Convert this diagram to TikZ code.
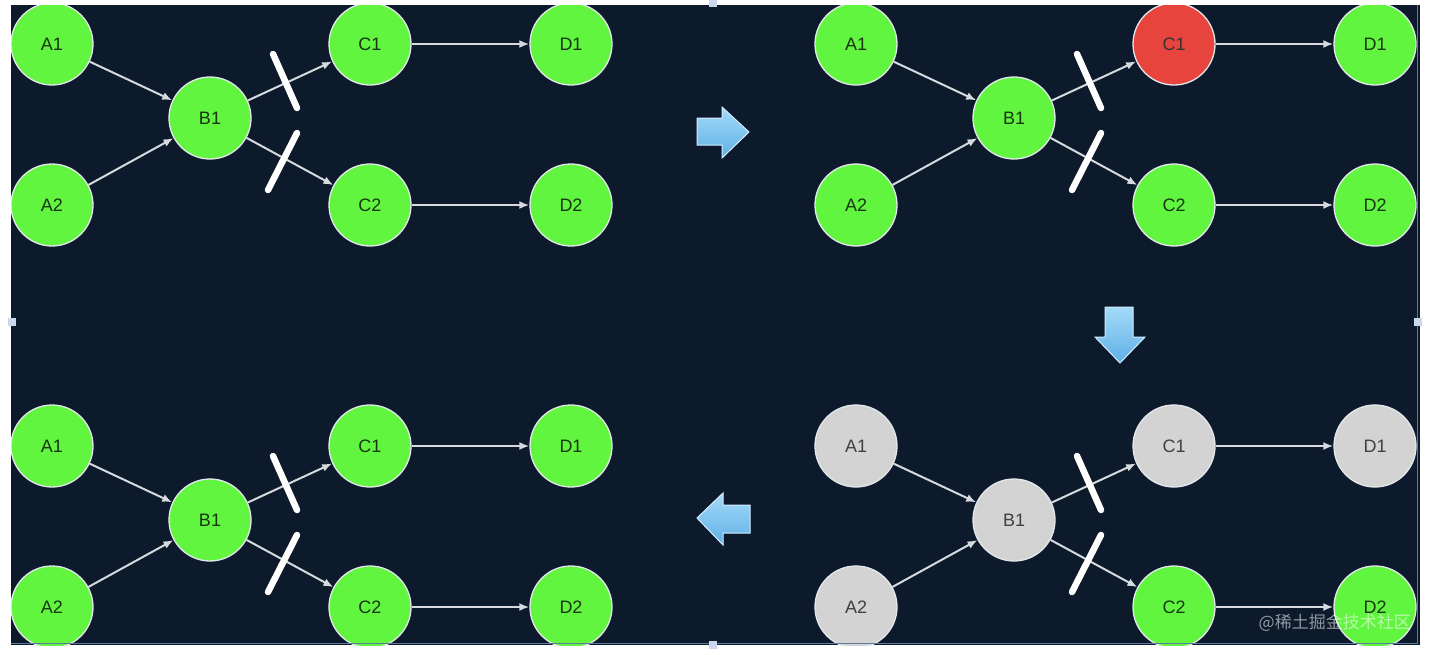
\documentclass[tikz,border=0pt]{standalone}
\usepackage{fontspec}
\setmainfont{Liberation Sans}
\newfontfamily\cjk{Noto Sans CJK SC}
\usetikzlibrary{arrows.meta}
\definecolor{bg}{HTML}{0C1A2B}
\definecolor{ngreen}{HTML}{62F53F}
\definecolor{ngray}{HTML}{D3D3D3}
\definecolor{nred}{HTML}{E8443E}
\definecolor{rim}{HTML}{E4E8EC}
\definecolor{edgecol}{HTML}{D6DADF}
\definecolor{arrtop}{HTML}{A4DAF8}
\definecolor{arrbot}{HTML}{5FB0E6}
\definecolor{arrrim}{HTML}{D4EEFF}
\definecolor{frame}{HTML}{5D7A9C}
\definecolor{handle}{HTML}{CAD8EE}
\definecolor{gtext}{HTML}{173512}
\tikzset{
  nd/.style={circle, minimum size=82pt, inner sep=0pt, draw=rim, line width=1.3pt,
             font=\fontsize{18}{18}\selectfont, text=gtext},
  gn/.style={nd, fill=ngreen},
  gy/.style={nd, fill=ngray, text=black!75},
  rd/.style={nd, fill=nred, text=black!80},
  edge/.style={draw=edgecol, line width=2pt, -{Latex[length=10pt,width=8pt]}},
  slash/.style={draw=white, line width=6.5pt, line cap=round},
  bigarrow/.style={top color=arrtop, bottom color=arrbot, draw=arrrim, line width=1pt, line join=miter},
  hnd/.style={fill=handle, draw=none, minimum size=8pt, inner sep=0pt, rectangle},
}
\newcommand\drawpanel[9]{%
  \begin{scope}[shift={(#2,#3)}]
    \node[#4] (#1A1) at (52,44) {A1};
    \node[#5] (#1A2) at (52,205) {A2};
    \node[#6] (#1B1) at (210,118) {B1};
    \node[#7] (#1C1) at (370,44) {C1};
    \node[#8] (#1C2) at (370,205) {C2};
    \node[#9] (#1D1) at (571,44) {D1};
    \node[gn] (#1D2) at (571,205) {D2};
    \draw[edge] (#1A1) -- (#1B1);
    \draw[edge] (#1A2) -- (#1B1);
    \draw[edge] (#1B1) -- (#1C1);
    \draw[edge] (#1B1) -- (#1C2);
    \draw[edge] (#1C1) -- (#1D1);
    \draw[edge] (#1C2) -- (#1D2);
    \draw[slash] (273,54) -- (297,108);
    \draw[slash] (297,133) -- (268,190);
  \end{scope}}
\begin{document}
\begin{tikzpicture}[x=1pt,y=-1pt]
  \useasboundingbox (0,0) rectangle (1430,654);
  \fill[white] (0,0) rectangle (1430,654);
  \fill[bg] (11,5) rectangle (1420,645);
  \begin{scope}
    \clip (11,5) rectangle (1420,645);
    \drawpanel{p}{0}{0}{gn}{gn}{gn}{gn}{gn}{gn}
    \drawpanel{q}{804}{0}{gn}{gn}{gn}{rd}{gn}{gn}
    \drawpanel{r}{804}{402}{gy}{gy}{gy}{gy}{gn}{gy}
    \drawpanel{s}{0}{402}{gn}{gn}{gn}{gn}{gn}{gn}
    % big transition arrows
    \shade[bigarrow] (697,118) -- (722,118) -- (722,107) -- (749,132) -- (722,158) -- (722,145) -- (697,145) -- cycle;
    \shade[bigarrow] (1105,307) -- (1133,307) -- (1133,337) -- (1145,337) -- (1120,363) -- (1095,337) -- (1105,337) -- cycle;
    \shade[bigarrow] (750,505) -- (723,505) -- (723,493) -- (697,518) -- (723,545) -- (723,533) -- (750,533) -- cycle;
  \end{scope}
  % frame lines
  \draw[frame, line width=1.6pt] (1417.5,5) -- (1417.5,643.5) -- (11,643.5);
  % selection handles
  \node[hnd] (h1) at (713,3) {};
  \node[hnd] (h2) at (713,645) {};
  \node[hnd] (h3) at (12,322) {};
  \node[hnd] (h4) at (1418,322) {};
  % watermark
  \node[font=\cjk\fontsize{17}{17}\selectfont, text=white, opacity=0.55, anchor=east, inner sep=0pt] (wm) at (1411,623) {@稀土掘金技术社区};
\end{tikzpicture}
\end{document}
